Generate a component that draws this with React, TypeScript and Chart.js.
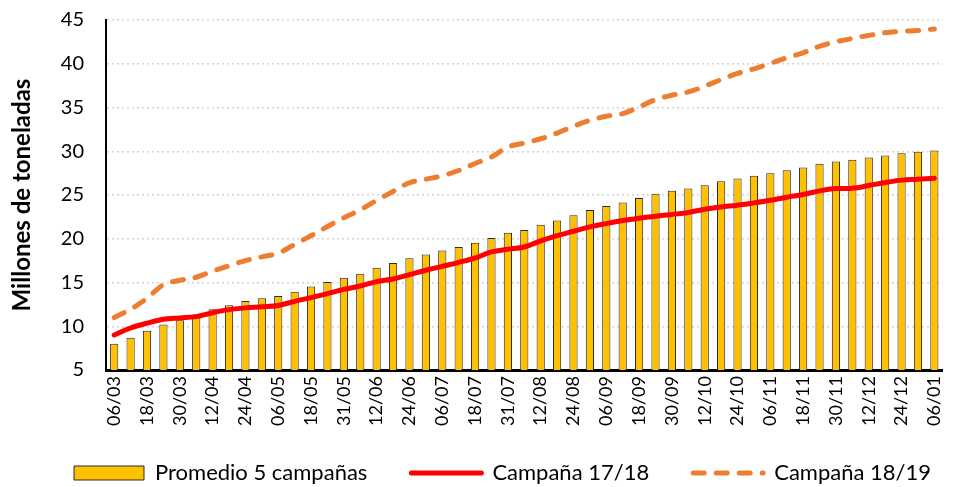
import React, { useEffect, useRef } from 'react';
import { Chart, registerables } from 'chart.js';

Chart.register(...registerables);

const categories = [
  '06/03', '12/03', '18/03', '24/03', '30/03', '06/04', '12/04', '18/04', '24/04', '30/04',
  '06/05', '12/05', '18/05', '24/05', '31/05', '06/06', '12/06', '18/06', '24/06', '30/06',
  '06/07', '12/07', '18/07', '24/07', '31/07', '06/08', '12/08', '18/08', '24/08', '31/08',
  '06/09', '12/09', '18/09', '24/09', '30/09', '06/10', '12/10', '18/10', '24/10', '30/10',
  '06/11', '12/11', '18/11', '24/11', '30/11', '06/12', '12/12', '18/12', '24/12', '31/12',
  '06/01',
];

const promedio5 = [
  8.0, 8.7, 9.5, 10.2, 10.7, 11.35, 11.95, 12.4, 12.9, 13.2,
  13.45, 13.95, 14.55, 15.05, 15.55, 16.0, 16.7, 17.23, 17.77, 18.2,
  18.65, 19.06, 19.54, 20.1, 20.7, 21.0, 21.6, 22.08, 22.7, 23.3,
  23.75, 24.14, 24.67, 25.13, 25.5, 25.74, 26.12, 26.58, 26.89, 27.19,
  27.5, 27.84, 28.15, 28.56, 28.83, 29.02, 29.29, 29.52, 29.78, 29.93,
  30.09,
];

const campana1718 = [
  9.0, 9.8, 10.35, 10.8, 10.95, 11.1, 11.55, 11.9, 12.1, 12.22,
  12.38, 12.85, 13.27, 13.73, 14.22, 14.6, 15.1, 15.4, 15.9, 16.4,
  16.85, 17.3, 17.8, 18.5, 18.8, 19.06, 19.75, 20.36, 20.86, 21.35,
  21.73, 22.08, 22.35, 22.57, 22.78, 23.0, 23.38, 23.64, 23.83, 24.1,
  24.4, 24.75, 25.05, 25.47, 25.74, 25.77, 26.08, 26.43, 26.7, 26.8,
  26.92,
];

const campana1819 = [
  11.0, 11.95, 13.2, 14.75, 15.25, 15.6, 16.3, 16.9, 17.5, 17.93,
  18.36, 19.35, 20.35, 21.4, 22.4, 23.3, 24.4, 25.4, 26.4, 26.8,
  27.2, 27.8, 28.6, 29.35, 30.48, 30.94, 31.43, 32.08, 32.85, 33.53,
  34.0, 34.3, 35.06, 35.9, 36.4, 36.78, 37.43, 38.2, 38.9, 39.42,
  40.03, 40.7, 41.25, 42.0, 42.5, 42.9, 43.24, 43.54, 43.7, 43.8,
  43.97,
];

const seriesLabels = ['Promedio 5 campañas', 'Campaña 17/18', 'Campaña 18/19'];
const yAxisTitle = 'Millones de toneladas';
const yMin = 5;
const yMax = 45;
const yStep = 5;

const FONT = "Lato, 'Liberation Sans', sans-serif";

export default function App() {
  const ref = useRef<HTMLCanvasElement | null>(null);

  useEffect(() => {
    if (!ref.current) return;
    const legendShift = {
      id: 'legendShift',
      afterLayout(chart: any) {
        const lg = chart.legend;
        if (lg) {
          lg.left += 30;
          lg.right += 30;
          lg.top -= 9;
        }
      },
    };
    const chart = new Chart(ref.current, {
      type: 'bar',
      data: {
        labels: categories,
        datasets: [
          {
            type: 'bar',
            label: seriesLabels[0],
            data: promedio5,
            backgroundColor: '#FFC000',
            borderColor: '#2a2a2a',
            borderWidth: 1,
            barPercentage: 0.5,
            categoryPercentage: 1,
            order: 3,
          } as any,
          {
            type: 'line',
            label: seriesLabels[1],
            data: campana1718,
            borderColor: '#FF0000',
            backgroundColor: '#FF0000',
            borderWidth: 5,
            pointRadius: 0,
            tension: 0.35,
            borderCapStyle: 'round',
            order: 2,
          } as any,
          {
            type: 'line',
            label: seriesLabels[2],
            data: campana1819,
            borderColor: '#ED7D31',
            backgroundColor: '#ED7D31',
            borderWidth: 5,
            borderDash: [11, 12],
            borderCapStyle: 'round',
            pointRadius: 0,
            tension: 0.35,
            order: 1,
          } as any,
        ],
      },
      options: {
        responsive: false,
        animation: false,
        devicePixelRatio: 1,
        layout: { padding: { top: 20, right: 4, left: 0, bottom: 0 } },
        plugins: {
          tooltip: { enabled: false },
          legend: {
            position: 'bottom',
            align: 'start',
            maxHeight: 60,
            labels: {
              usePointStyle: true,
              pointStyleWidth: 70,
              boxHeight: 14,
              padding: 44,
              color: '#000',
              font: { family: FONT, size: 22 },
              generateLabels: (c: any) =>
                c.data.datasets.map((ds: any, i: number) => ({
                  text: ds.label,
                  datasetIndex: i,
                  hidden: false,
                  fillStyle: i === 0 ? ds.backgroundColor : 'rgba(0,0,0,0)',
                  strokeStyle: ds.borderColor,
                  lineWidth: i === 0 ? 1 : ds.borderWidth,
                  lineDash: ds.borderDash || [],
                  lineCap: i === 0 ? 'butt' : 'round',
                  pointStyle: i === 0 ? 'rect' : 'line',
                  fontColor: '#000',
                })),
            },
          },
        },
        scales: {
          x: {
            type: 'category',
            offset: true,
            grid: { display: false, drawTicks: false },
            border: { display: true, color: '#000', width: 3 },
            ticks: {
              autoSkip: false,
              maxRotation: 90,
              minRotation: 90,
              padding: 6,
              color: '#000',
              font: { family: FONT, size: 18 },
              callback: (_v: any, i: number) => (i % 2 === 0 ? categories[i] : ''),
            },
            afterFit: (s: any) => {
              s.height = 57;
            },
          },
          y: {
            min: yMin,
            max: yMax,
            grid: { color: '#d4d4d4', lineWidth: 1.5, drawTicks: false },
            border: { display: true, color: '#000', width: 2, dash: [2, 3] },
            ticks: {
              stepSize: yStep,
              padding: 22,
              color: '#000',
              font: { family: FONT, size: 20 },
            },
            title: {
              display: true,
              text: yAxisTitle,
              color: '#000',
              padding: { top: 8, bottom: 0 },
              font: { family: FONT, size: 24, weight: 'bold' },
            },
            afterFit: (s: any) => {
              s.width = 106;
              s.paddingTop = 0;
              s.paddingBottom = 0;
            },
          },
        },
      } as any,
      plugins: [legendShift],
    });
    return () => chart.destroy();
  }, []);

  return (
    <div style={{ position: 'fixed', left: 0, top: 0, width: 962, height: 487, background: '#fff' }}>
      <canvas ref={ref} width={962} height={487} style={{ display: 'block' }} />
    </div>
  );
}
